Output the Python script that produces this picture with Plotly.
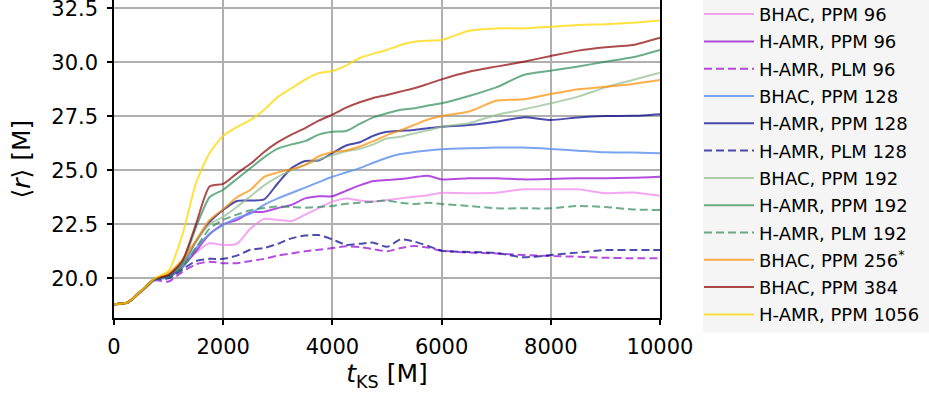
import plotly.graph_objects as go

t = [0, 250, 500, 750, 1000, 1250, 1500, 1750, 2000, 2250, 2500, 2750, 3000, 3250, 3500,
     3750, 4000, 4250, 4500, 4750, 5000, 5250, 5500, 5750, 6000, 6500, 7000, 7500, 8000,
     8500, 9000, 9500, 10000]

bhac_ppm_96 = [18.8, 18.88, 19.42, 19.98, 20.1, 20.6, 21.2, 21.62, 21.54, 21.6, 22.3, 22.75,
               22.7, 22.65, 22.95, 23.25, 23.55, 23.7, 23.6, 23.55, 23.62, 23.7, 23.78, 23.85,
               23.96, 23.94, 23.96, 24.12, 24.12, 24.12, 23.94, 23.97, 23.82]
hamr_ppm_96 = [18.8, 18.88, 19.4, 19.95, 20.05, 20.5, 21.25, 22.05, 22.5, 22.7, 23.05, 23.08,
               23.25, 23.4, 23.7, 23.8, 23.8, 24.05, 24.3, 24.5, 24.55, 24.6, 24.68, 24.75,
               24.58, 24.63, 24.63, 24.58, 24.6, 24.63, 24.63, 24.65, 24.7]
hamr_plm_96 = [18.8, 18.88, 19.4, 19.9, 19.85, 20.3, 20.65, 20.77, 20.7, 20.7, 20.8, 20.9,
               21.05, 21.15, 21.25, 21.32, 21.4, 21.48, 21.45, 21.35, 21.25, 21.4, 21.5, 21.42,
               21.28, 21.19, 21.15, 21.08, 21.03, 21.0, 20.95, 20.93, 20.93]
bhac_ppm_128 = [18.8, 18.86, 19.38, 19.92, 20.05, 20.5, 21.4, 22.05, 22.47, 22.8, 23.0, 23.4,
                23.7, 23.95, 24.2, 24.45, 24.7, 24.9, 25.1, 25.35, 25.58, 25.75, 25.85, 25.92,
                25.97, 26.02, 26.05, 26.05, 25.99, 25.91, 25.83, 25.82, 25.79]
hamr_ppm_128 = [18.8, 18.88, 19.42, 19.98, 20.1, 20.6, 21.7, 22.6, 23.16, 23.58, 23.6, 23.65,
                24.4, 25.1, 25.43, 25.45, 25.8, 26.15, 26.3, 26.6, 26.78, 26.83, 26.87, 26.95,
                27.02, 27.1, 27.25, 27.45, 27.33, 27.45, 27.51, 27.52, 27.6]
hamr_plm_128 = [18.8, 18.88, 19.42, 19.95, 20.0, 20.4, 20.8, 20.9, 20.9, 21.05, 21.32, 21.4,
                21.6, 21.85, 21.98, 22.0, 21.8, 21.55, 21.6, 21.65, 21.46, 21.8, 21.7, 21.5,
                21.28, 21.22, 21.17, 20.97, 21.08, 21.19, 21.31, 21.31, 21.31]
bhac_ppm_192 = [18.8, 18.88, 19.42, 19.98, 20.15, 20.6, 21.7, 22.5, 22.85, 23.3, 23.8, 24.3,
                24.7, 25.0, 25.25, 25.5, 25.7, 25.88, 26.0, 26.2, 26.48, 26.55, 26.71, 26.85,
                27.02, 27.18, 27.56, 27.82, 28.1, 28.41, 28.84, 29.18, 29.52]
hamr_ppm_192 = [18.8, 18.88, 19.42, 19.98, 20.15, 20.7, 22.35, 23.75, 24.1, 24.6, 25.1, 25.6,
                26.0, 26.2, 26.35, 26.65, 26.78, 26.82, 27.15, 27.45, 27.64, 27.8, 27.87, 28.0,
                28.1, 28.44, 28.84, 29.41, 29.61, 29.8, 30.03, 30.23, 30.57]
hamr_plm_192 = [18.8, 18.88, 19.42, 19.96, 20.05, 20.5, 21.4, 22.3, 22.7, 22.95, 23.15, 23.25,
                23.33, 23.3, 23.27, 23.3, 23.35, 23.45, 23.5, 23.55, 23.6, 23.5, 23.44, 23.5,
                23.44, 23.35, 23.24, 23.24, 23.24, 23.35, 23.3, 23.19, 23.16]
bhac_ppm_256 = [18.8, 18.88, 19.42, 19.98, 20.25, 20.85, 21.75, 22.7, 23.2, 23.75, 24.1, 24.7,
                24.9, 25.05, 25.25, 25.65, 25.85, 25.92, 26.1, 26.35, 26.63, 26.85, 27.1, 27.35,
                27.51, 27.72, 28.22, 28.29, 28.53, 28.75, 28.87, 29.0, 29.18]
bhac_ppm_384 = [18.8, 18.88, 19.42, 19.98, 20.15, 20.8, 22.5, 24.25, 24.37, 24.86, 25.3, 25.85,
                26.3, 26.65, 26.95, 27.3, 27.58, 27.9, 28.15, 28.35, 28.49, 28.65, 28.8, 29.0,
                29.21, 29.56, 29.8, 30.03, 30.29, 30.54, 30.7, 30.8, 31.14]
hamr_ppm_1056 = [18.8, 18.88, 19.42, 20.0, 20.35, 22.0, 24.4, 25.8, 26.6, 27.0, 27.33, 27.8,
                 28.4, 28.8, 29.2, 29.5, 29.6, 29.85, 30.2, 30.4, 30.57, 30.8, 30.95, 31.0,
                 31.03, 31.46, 31.57, 31.57, 31.65, 31.73, 31.76, 31.83, 31.93]

names = ["BHAC, PPM 96", "H-AMR, PPM 96", "H-AMR, PLM 96",
         "BHAC, PPM 128", "H-AMR, PPM 128", "H-AMR, PLM 128",
         "BHAC, PPM 192", "H-AMR, PPM 192", "H-AMR, PLM 192",
         "BHAC, PPM 256<sup>*</sup>", "BHAC, PPM 384", "H-AMR, PPM 1056"]
series = [bhac_ppm_96, hamr_ppm_96, hamr_plm_96,
          bhac_ppm_128, hamr_ppm_128, hamr_plm_128,
          bhac_ppm_192, hamr_ppm_192, hamr_plm_192,
          bhac_ppm_256, bhac_ppm_384, hamr_ppm_1056]
colors = ["rgba(238,130,238,0.7)", "rgba(148,0,211,0.7)", "rgba(148,0,211,0.7)",
          "rgba(100,149,237,0.85)", "rgba(0,0,139,0.7)", "rgba(0,0,139,0.7)",
          "rgba(143,188,143,0.7)", "rgba(46,139,87,0.7)", "rgba(46,139,87,0.7)",
          "rgba(255,140,0,0.7)", "rgba(139,0,0,0.7)", "rgba(255,215,0,0.75)"]
dashes = ["solid", "solid", "8px,4px", "solid", "solid", "8px,4px",
          "solid", "solid", "8px,4px", "solid", "solid", "solid"]

W, H = 929, 400
L, R, T, B = 114, 269, 0, 40
GH = H - T - B            # plotting-region height in px
AX_BOTTOM = 318.3         # pixel row of the x axis line
PW = W - L - R


def px_x(p):
    return (p - L) / PW


def px_y(p):
    return 1 - (p - T) / GH


fig = go.Figure()
for i, (n, s, c, d) in enumerate(zip(names, series, colors, dashes)):
    fig.add_trace(go.Scatter(x=t, y=s, name=n, mode="lines", legendgroup=str(i),
                             line=dict(color=c, width=2, dash=d, shape="spline", smoothing=0.6)))

font = "DejaVu Sans"
fig.update_layout(
    width=W, height=H,
    margin=dict(l=L, r=R, t=T, b=B, autoexpand=False),
    plot_bgcolor="white", paper_bgcolor="white",
    font=dict(family=font, size=21, color="black"),
    showlegend=True,
    legend=dict(x=px_x(699), y=px_y(164.4), xanchor="left", yanchor="middle",
                bgcolor="rgba(0,0,0,0)", font=dict(family=font, size=18),
                tracegroupgap=0.9, itemwidth=50),
    shapes=[dict(type="rect", xref="paper", yref="paper", x0=px_x(703), x1=px_x(940),
                 y0=px_y(332.7), y1=px_y(-5),
                 fillcolor="#f5f5f5", line=dict(width=0), layer="below")],
    xaxis=dict(range=[0, 10000], tickvals=[0, 2000, 4000, 6000, 8000, 10000],
               ticktext=["0", "2000", "4000", "6000", "8000", "10000"],
               showgrid=True, gridcolor="#b0b0b0", gridwidth=1.5, zeroline=False,
               showline=True, linecolor="black", linewidth=1.5, mirror=False,
               ticks="outside", ticklen=5, tickwidth=1.5, tickcolor="black",
               ticklabelstandoff=4, ticklabeloverflow="allow",
               title=dict(text="<i>t</i><sub>KS</sub> [M]", standoff=6)),
    yaxis=dict(range=[18.148, 32.884], domain=[px_y(AX_BOTTOM), 1],
               tickvals=[20.0, 22.5, 25.0, 27.5, 30.0, 32.5],
               ticktext=["20.0", "22.5", "25.0", "27.5", "30.0", "32.5"],
               showgrid=True, gridcolor="#b0b0b0", gridwidth=1.5, zeroline=False,
               showline=True, linecolor="black", linewidth=1.5, mirror=True,
               ticks="outside", ticklen=5, tickwidth=1.5, tickcolor="black",
               ticklabelstandoff=5, ticklabeloverflow="allow",
               title=dict(text="⟨<i>r</i>⟩ [M]", standoff=14)),
)
fig.write_html("out.html")
